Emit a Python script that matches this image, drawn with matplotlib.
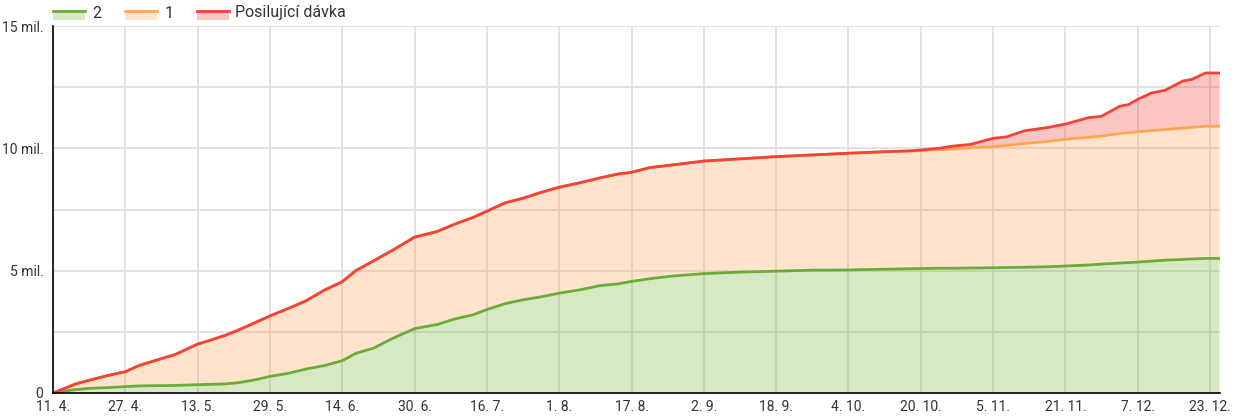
import matplotlib
matplotlib.use("Agg")
import matplotlib.pyplot as plt
import numpy as np
import pandas as pd
from matplotlib.patches import Rectangle
from matplotlib.lines import Line2D

plt.rcParams['font.family'] = ['Roboto', 'DejaVu Sans']

# ---- data (millions) ----
start = pd.Timestamp("2021-04-11")
days = [0, 3, 5, 8, 12, 16, 19, 23, 27, 32, 34, 38, 41, 45, 48, 52, 56, 60, 64, 67,
        71, 75, 80, 85, 89, 93, 96, 100, 104, 108, 112, 117, 121, 125, 128, 132, 137,
        144, 152, 160, 168, 176, 184, 190, 196, 199, 203, 208, 211, 215, 220, 224, 229,
        232, 236, 238, 240, 243, 246, 250, 252, 255, 258]
# line "2" (bottom layer)
line_2 = [0, 0.09, 0.14, 0.19, 0.22, 0.26, 0.29, 0.30, 0.31, 0.34, 0.35, 0.37, 0.42, 0.55,
          0.68, 0.80, 0.98, 1.12, 1.32, 1.62, 1.84, 2.22, 2.63, 2.80, 3.03, 3.20, 3.41, 3.65,
          3.81, 3.93, 4.08, 4.23, 4.39, 4.46, 4.56, 4.67, 4.78, 4.88, 4.94, 4.98, 5.02, 5.03,
          5.06, 5.08, 5.10, 5.10, 5.11, 5.12, 5.13, 5.14, 5.16, 5.19, 5.23, 5.27, 5.31, 5.33,
          5.35, 5.39, 5.43, 5.46, 5.48, 5.50, 5.50]
# line "1" (stacked top of layer 1)
line_1 = [0, 0.22, 0.37, 0.52, 0.71, 0.87, 1.12, 1.35, 1.57, 2.00, 2.11, 2.35, 2.57, 2.90,
          3.15, 3.45, 3.77, 4.20, 4.55, 5.00, 5.41, 5.82, 6.37, 6.60, 6.91, 7.18, 7.43, 7.77,
          7.96, 8.20, 8.41, 8.61, 8.79, 8.95, 9.02, 9.21, 9.32, 9.48, 9.57, 9.66, 9.73, 9.80,
          9.86, 9.89, 9.95, 9.97, 10.02, 10.07, 10.12, 10.20, 10.28, 10.37, 10.45, 10.50,
          10.61, 10.64, 10.68, 10.72, 10.77, 10.83, 10.86, 10.90, 10.91]
# line "Posilující dávka" (stacked top of booster layer)
line_boost = [0, 0.22, 0.37, 0.52, 0.71, 0.87, 1.12, 1.35, 1.57, 2.00, 2.11, 2.35, 2.57, 2.90,
              3.15, 3.45, 3.77, 4.20, 4.55, 5.00, 5.41, 5.82, 6.37, 6.60, 6.91, 7.18, 7.43, 7.77,
              7.96, 8.20, 8.41, 8.61, 8.79, 8.95, 9.02, 9.21, 9.32, 9.48, 9.57, 9.66, 9.73, 9.80,
              9.86, 9.90, 10.00, 10.09, 10.16, 10.41, 10.47, 10.72, 10.85, 10.99, 11.25, 11.31,
              11.72, 11.79, 12.00, 12.26, 12.37, 12.75, 12.82, 13.08, 13.08]

legend_labels = ["2", "1", "Posilující dávka"]
y_ticks = [0, 5, 10, 15]
y_tick_labels = ["0", "5 mil.", "10 mil.", "15 mil."]
tick_step_days = 16

line_colors = ["#6aab3a", "#ffa552", "#f44336"]
fill_colors = ["#7cb342", "#ffa558", "#f44336"]
fill_alpha = 0.3

x = np.array(days)
s2 = np.array(line_2)
s1 = np.array(line_1)
sb = np.array(line_boost)

W, H = 1244, 420
fig = plt.figure(figsize=(W / 100, H / 100), dpi=100)
ax = fig.add_axes([53 / W, 1 - 393 / H, (1220 - 53) / W, (393 - 26) / H])

ax.fill_between(x, 0, s2, color=fill_colors[0], alpha=fill_alpha, lw=0, zorder=2)
ax.fill_between(x, s2, s1, color=fill_colors[1], alpha=fill_alpha, lw=0, zorder=2)
ax.fill_between(x, s1, sb, color=fill_colors[2], alpha=fill_alpha, lw=0, zorder=2)
ax.plot(x, s2, color=line_colors[0], lw=2.0, zorder=3, solid_joinstyle="round")
ax.plot(x, s1, color=line_colors[1], lw=2.0, zorder=3, solid_joinstyle="round")
ax.plot(x, sb, color=line_colors[2], lw=2.0, zorder=4, solid_joinstyle="round")

ax.set_xlim(0, 258.2)
ax.set_ylim(0, 15)
xt = np.arange(0, 259, tick_step_days)
ax.set_xticks(xt)
ax.set_xticklabels([f"{(start + pd.Timedelta(days=int(d))).day}. {(start + pd.Timedelta(days=int(d))).month}." for d in xt])
ax.set_yticks(y_ticks)
ax.set_yticklabels(y_tick_labels)
ax.set_yticks([2.5, 7.5, 12.5], minor=True)
ax.grid(True, which="both", color="#dddddd", lw=1.2, zorder=1)
ax.set_axisbelow(True)
ax.tick_params(axis="both", which="both", length=0, labelsize=10, colors="#333333")
ax.tick_params(axis="x", pad=5)
ax.tick_params(axis="y", pad=7)
for side in ["top", "right"]:
    ax.spines[side].set_visible(False)
for side in ["left", "bottom"]:
    ax.spines[side].set_color("black")
    ax.spines[side].set_linewidth(1.2)
    ax.spines[side].set_zorder(5)

# legend drawn manually at top-left
leg_x = [53, 125, 197]
txt_x = [92, 165, 235]
for i in range(3):
    x0 = leg_x[i] / W
    w = 32 / W
    ytop = 1 - 10.5 / H
    ybot = 1 - 20 / H
    fig.add_artist(Rectangle((x0, ybot), w, ytop - ybot, transform=fig.transFigure,
                             facecolor=fill_colors[i], alpha=fill_alpha, lw=0))
    fig.add_artist(Line2D([x0, x0 + w], [ytop, ytop], transform=fig.transFigure,
                          color=line_colors[i], lw=2))
    fig.text(txt_x[i] / W, 1 - 13 / H, legend_labels[i], fontsize=11.5, color="#333333",
             ha="left", va="center")

fig.savefig("out.png", dpi=100)
